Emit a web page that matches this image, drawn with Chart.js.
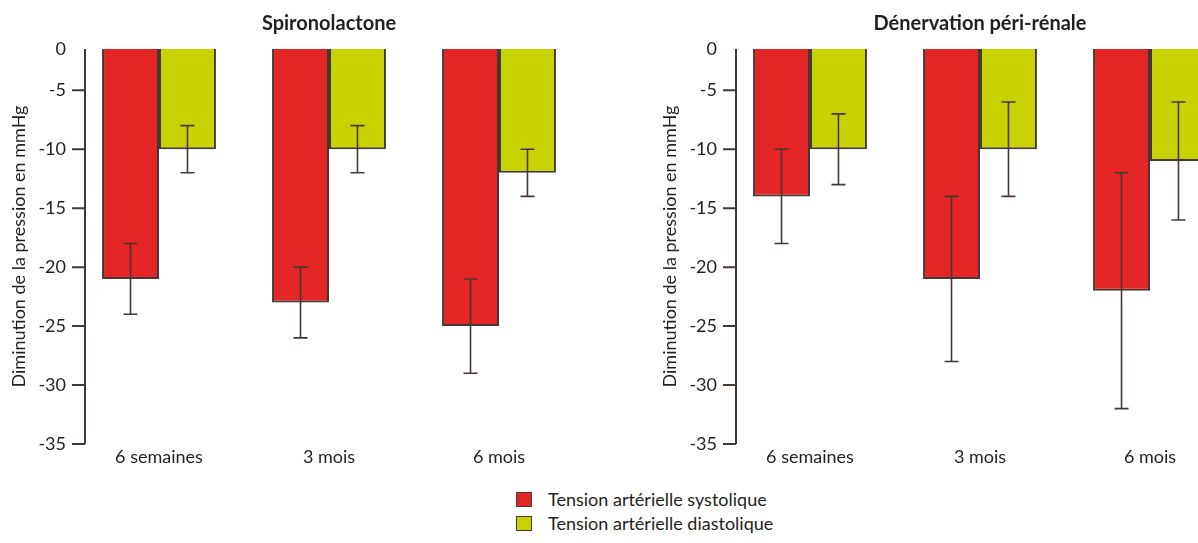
<!DOCTYPE html>
<html>
<head>
<meta charset="utf-8">
<script src="https://cdn.jsdelivr.net/npm/chart.js@4"></script>
<style>
html, body { margin: 0; padding: 0; background: #fff; overflow: hidden; width: 1198px; height: 543px; position: relative; font-family: Lato, sans-serif; color: #231f20; }
.panel { position: absolute; top: 0; width: 600px; height: 470px; }
#legend { position: absolute; left: 516px; top: 487px; font-size: 18px; }
.item { display: flex; align-items: center; height: 24px; }
.box { width: 14px; height: 13px; border: 1.5px solid #4a3a35; margin-right: 16px; }
</style>
</head>
<body>
<div class="panel" style="left:0"><canvas id="spiroChart"></canvas></div>
<div class="panel" style="left:651px"><canvas id="denervChart"></canvas></div>
<div id="legend"></div>
<script>
const categories = ['6 semaines', '3 mois', '6 mois'];
const seriesLabels = ['Tension artérielle systolique', 'Tension artérielle diastolique'];
const seriesColors = ['#e32526', '#c6d300'];

const spiroSystolic = [-21, -23, -25];
const spiroSystolicErr = [3, 3, 4];
const spiroDiastolic = [-10, -10, -12];
const spiroDiastolicErr = [2, 2, 2];

const denervSystolic = [-14, -21, -22];
const denervSystolicErr = [4, 7, 10];
const denervDiastolic = [-10, -10, -11];
const denervDiastolicErr = [3, 4, 5];

const yTicks = [0, -5, -10, -15, -20, -25, -30, -35];
const yTop = -1.5; // le haut du graphique original est coupé, le "0" est posé là

const ink = '#453733';

Chart.defaults.font.family = 'Lato, sans-serif';
Chart.defaults.font.size = 18;
Chart.defaults.color = '#231f20';

// barres d'erreur (écart de part et d'autre de la valeur)
const errorBars = {
    id: 'errorBars',
    afterDatasetsDraw(chart) {
        const ctx = chart.ctx;
        const y = chart.scales.y;
        ctx.save();
        ctx.strokeStyle = ink;
        ctx.lineWidth = 1.6;
        chart.data.datasets.forEach((ds, i) => {
            chart.getDatasetMeta(i).data.forEach((bar, j) => {
                const hi = y.getPixelForValue(ds.data[j] + ds.errors[j]);
                const lo = y.getPixelForValue(ds.data[j] - ds.errors[j]);
                ctx.beginPath();
                ctx.moveTo(bar.x, hi); ctx.lineTo(bar.x, lo);
                ctx.moveTo(bar.x - 7, hi); ctx.lineTo(bar.x + 7, hi);
                ctx.moveTo(bar.x - 7, lo); ctx.lineTo(bar.x + 7, lo);
                ctx.stroke();
            });
        });
        ctx.restore();
    }
};

// axe vertical un peu en retrait du bord de la zone
const axisLine = {
    id: 'axisLine',
    afterDraw(chart) {
        const { ctx, chartArea } = chart;
        const y = chart.scales.y;
        const x0 = chartArea.left + 11;
        ctx.save();
        ctx.strokeStyle = ink;
        ctx.lineWidth = 2;
        ctx.beginPath();
        ctx.moveTo(x0, chartArea.top);
        ctx.lineTo(x0, y.getPixelForValue(-35));
        y.ticks.forEach(t => {
            if (t.value === yTop) return;
            const py = y.getPixelForValue(t.value);
            ctx.moveTo(x0 - 13, py);
            ctx.lineTo(x0, py);
        });
        ctx.stroke();
        ctx.restore();
    }
};

const panelTitle = {
    id: 'panelTitle',
    afterDraw(chart, args, opts) {
        const { ctx, chartArea } = chart;
        ctx.save();
        ctx.font = 'bold 20px Lato, sans-serif';
        ctx.fillStyle = '#231f20';
        ctx.textAlign = 'center';
        ctx.textBaseline = 'middle';
        ctx.fillText(opts.text, (chartArea.left + chartArea.right) / 2, 24);
        ctx.restore();
    }
};

function makeChart(id, title, sys, sysErr, dia, diaErr) {
    return new Chart(document.getElementById(id), {
        type: 'bar',
        data: {
            labels: categories,
            datasets: [
                { label: seriesLabels[0], data: sys, errors: sysErr, backgroundColor: seriesColors[0] },
                { label: seriesLabels[1], data: dia, errors: diaErr, backgroundColor: seriesColors[1] }
            ]
        },
        options: {
            responsive: true,
            maintainAspectRatio: false,
            animation: false,
            layout: { padding: { top: 49, right: 16, left: 0, bottom: 0 } },
            datasets: {
                bar: {
                    borderColor: ink,
                    borderWidth: 2,
                    categoryPercentage: 0.67,
                    barPercentage: 1,
                    clip: 0
                }
            },
            scales: {
                x: {
                    grid: { display: false, drawTicks: false },
                    border: { display: false },
                    ticks: { padding: 2 },
                    afterFit(scale) { scale.height = 26; }
                },
                y: {
                    min: -35,
                    max: yTop,
                    afterBuildTicks(scale) {
                        scale.ticks = yTicks.map(v => ({ value: v === 0 ? yTop : v }));
                    },
                    ticks: {
                        padding: 8,
                        autoSkip: false,
                        callback: v => (v === yTop ? '0' : String(v))
                    },
                    grid: { display: false, drawTicks: false },
                    border: { display: false },
                    title: {
                        display: true,
                        text: 'Diminution de la pression en mmHg',
                        padding: { top: 8, bottom: 0 }
                    },
                    afterFit(scale) { scale.width = 74; }
                }
            },
            plugins: {
                legend: { display: false },
                tooltip: { enabled: false },
                panelTitle: { text: title }
            }
        },
        plugins: [errorBars, axisLine, panelTitle]
    });
}

makeChart('spiroChart', 'Spironolactone', spiroSystolic, spiroSystolicErr, spiroDiastolic, spiroDiastolicErr);
makeChart('denervChart', 'Dénervation péri-rénale', denervSystolic, denervSystolicErr, denervDiastolic, denervDiastolicErr);

const legend = document.getElementById('legend');
seriesLabels.forEach((label, i) => {
    const item = document.createElement('div');
    item.className = 'item';
    const box = document.createElement('span');
    box.className = 'box';
    box.style.background = seriesColors[i];
    item.appendChild(box);
    item.appendChild(document.createTextNode(label));
    legend.appendChild(item);
});
</script>
</body>
</html>
